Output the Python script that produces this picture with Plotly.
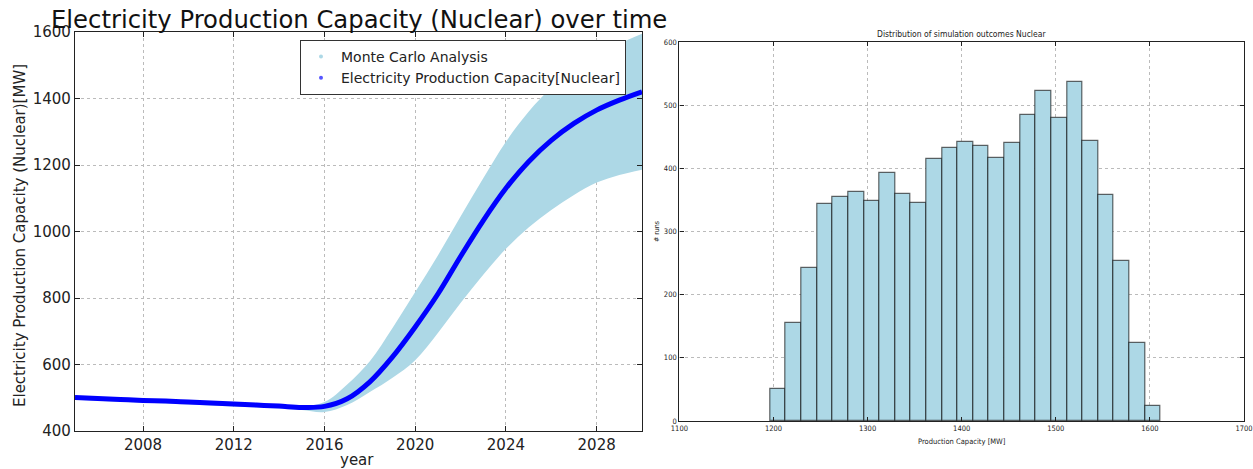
import plotly.graph_objects as go

# ---------------- data ----------------
years = list(range(2005, 2031))
mean_capacity = [501, 498, 495, 492, 490, 487, 484, 481, 478, 475, 471, 474, 497,
                 548, 623, 713, 812, 925, 1033, 1130, 1210, 1274, 1325, 1365, 1395, 1420]
upper_bound = [503, 500, 497, 494, 492, 489, 486, 483, 480, 477, 474, 487, 540,
               610, 710, 818, 928, 1045, 1160, 1270, 1360, 1432, 1488, 1530, 1565, 1595]
lower_bound = [494, 491, 488, 485, 483, 480, 477, 474, 471, 468, 463, 457, 478,
               517, 560, 613, 695, 785, 870, 948, 1012, 1065, 1110, 1147, 1170, 1186]

left_xticks = [2008, 2012, 2016, 2020, 2024, 2028]
left_yticks = [400, 600, 800, 1000, 1200, 1400, 1600]

hist_bin_start = 1196.5
hist_bin_width = 16.6
hist_counts = [50, 155, 242, 344, 355, 362, 349, 392, 360, 345, 414, 432, 442,
               436, 416, 440, 484, 523, 480, 537, 444, 357, 253, 123, 24]
right_xticks = [1100, 1200, 1300, 1400, 1500, 1600, 1700]
right_yticks = [0, 100, 200, 300, 400, 500, 600]

hist_centers = [hist_bin_start + hist_bin_width * (i + 0.5) for i in range(len(hist_counts))]

W, H = 1253, 469
LIGHT = "#add8e6"
BLUE = "#0000ff"
FONT = "DejaVu Sans"
SMALL_FONT = "DejaVu Sans Condensed, Liberation Sans Narrow, DejaVu Sans"

fig = go.Figure()

# Monte Carlo band
fig.add_trace(go.Scatter(x=years, y=lower_bound, mode="lines", line=dict(width=0, color=LIGHT, shape="spline"),
                         showlegend=False, hoverinfo="skip", xaxis="x", yaxis="y"))
fig.add_trace(go.Scatter(x=years, y=upper_bound, mode="lines", line=dict(width=0, color=LIGHT, shape="spline"),
                         fill="tonexty", fillcolor=LIGHT, showlegend=False, xaxis="x", yaxis="y"))
# mean line
fig.add_trace(go.Scatter(x=years, y=mean_capacity, mode="lines", line=dict(width=5, color=BLUE, shape="spline"),
                         showlegend=False, xaxis="x", yaxis="y"))
# legend entries
fig.add_trace(go.Scatter(x=[None], y=[None], mode="markers", marker=dict(size=4, color=LIGHT),
                         name="Monte Carlo Analysis", xaxis="x", yaxis="y"))
fig.add_trace(go.Scatter(x=[None], y=[None], mode="markers", marker=dict(size=4, color="#5555ff"),
                         name="Electricity Production Capacity[Nuclear]", xaxis="x", yaxis="y"))

# histogram
fig.add_trace(go.Bar(x=hist_centers, y=hist_counts, width=hist_bin_width,
                     marker=dict(color=LIGHT, line=dict(color="rgba(0,0,0,0.6)", width=1.2)),
                     showlegend=False, xaxis="x2", yaxis="y2"))

axis_common = dict(showline=True, linecolor="#222", linewidth=1.3, mirror="ticks",
                   ticks="inside", tickcolor="#222", showgrid=True, gridcolor="#bbbbbb",
                   griddash="dot", gridwidth=1, zeroline=False, automargin=False)

fig.update_layout(
    width=W, height=H,
    margin=dict(l=0, r=0, t=0, b=0),
    paper_bgcolor="white", plot_bgcolor="white",
    font=dict(family=FONT, color="#222"),
    bargap=0,
    showlegend=True,
    legend=dict(x=300 / W, y=1 - 40 / H, xanchor="left", yanchor="top",
                bgcolor="white", bordercolor="#333", borderwidth=1, traceorder="normal",
                font=dict(family=FONT, size=14, color="#222"), tracegroupgap=0),
    xaxis=dict(domain=[75 / W, 642 / W], range=[2005, 2030], tickvals=left_xticks,
               tickfont=dict(size=15), ticklen=5, anchor="y", **axis_common),
    yaxis=dict(domain=[1 - 431 / H, 1 - 32 / H], range=[400, 1600], tickvals=left_yticks,
               tickfont=dict(size=15), ticklen=5, anchor="x", **axis_common),
    xaxis2=dict(domain=[679.4 / W, 1244 / W], range=[1100, 1700], tickvals=right_xticks,
                tickfont=dict(size=7.5, family=SMALL_FONT), ticklen=4, anchor="y2", **axis_common),
    yaxis2=dict(domain=[1 - 421 / H, 1 - 42 / H], range=[0, 600], tickvals=right_yticks,
                tickfont=dict(size=7.5, family=SMALL_FONT), ticklen=4, anchor="x2", **axis_common),
    annotations=[
        dict(text="Electricity Production Capacity (Nuclear) over time", x=359 / W, y=1 - 20 / H,
             xref="paper", yref="paper", xanchor="center", yanchor="middle", showarrow=False,
             font=dict(size=24.3, family=FONT, color="#111")),
        dict(text="Electricity Production Capacity (Nuclear)[MW]", x=20 / W, y=1 - 236 / H,
             xref="paper", yref="paper", xanchor="center", yanchor="middle", showarrow=False,
             textangle=-90, font=dict(size=15, family=FONT, color="#222")),
        dict(text="year", x=357 / W, y=1 - 460 / H,
             xref="paper", yref="paper", xanchor="center", yanchor="middle", showarrow=False,
             font=dict(size=15, family=FONT, color="#222")),
        dict(text="Distribution of simulation outcomes Nuclear", x=961 / W, y=1 - 34 / H,
             xref="paper", yref="paper", xanchor="center", yanchor="middle", showarrow=False,
             font=dict(size=8.5, family=SMALL_FONT, color="#222")),
        dict(text="Production Capacity [MW]", x=962 / W, y=1 - 441 / H,
             xref="paper", yref="paper", xanchor="center", yanchor="middle", showarrow=False,
             font=dict(size=7.5, family=SMALL_FONT, color="#222")),
        dict(text="# runs", x=657 / W, y=1 - 232 / H,
             xref="paper", yref="paper", xanchor="center", yanchor="middle", showarrow=False,
             textangle=-90, font=dict(size=7, family=SMALL_FONT, color="#222")),
    ],
)

fig.write_html("out.html", config={"displayModeBar": False},
               post_script="document.body.style.margin='0';document.body.style.padding='0';"
                           "document.body.style.overflow='hidden';")
